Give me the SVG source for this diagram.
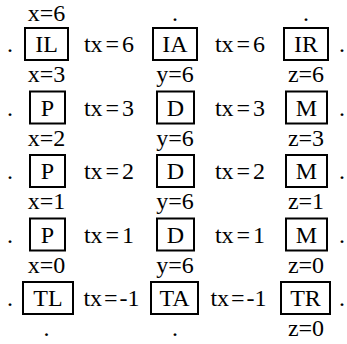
<svg xmlns="http://www.w3.org/2000/svg" width="347" height="344" viewBox="0 0 347 344">
<style>
text{font-family:"Liberation Serif","Times New Roman",serif;font-size:24px;fill:#000;text-anchor:middle}
rect.box{fill:#fff;stroke:#000;stroke-width:2}
</style>
<rect width="347" height="344" fill="#fff"/>
<g id="connectors"/>
<g id="row1">
<g id="IL"><rect class="box" x="25" y="28" width="43" height="32"/><text x="46.5" y="52">IL</text></g>
<g id="IA"><rect class="box" x="153" y="28" width="44" height="32"/><text x="175" y="52">IA</text></g>
<g id="IR"><rect class="box" x="284" y="28" width="44" height="32"/><text x="306" y="52">IR</text></g>
</g>
<g id="row2">
<g id="P3"><rect class="box" x="30" y="91.5" width="35" height="32"/><text x="47.5" y="115.5">P</text></g>
<g id="D3"><rect class="box" x="157" y="91.5" width="37" height="32"/><text x="175.5" y="115.5">D</text></g>
<g id="M3"><rect class="box" x="286" y="91.5" width="41" height="32"/><text x="306.5" y="115.5">M</text></g>
</g>
<g id="row3">
<g id="P2"><rect class="box" x="30" y="155" width="35" height="32"/><text x="47.5" y="179">P</text></g>
<g id="D2"><rect class="box" x="157" y="155" width="37" height="32"/><text x="175.5" y="179">D</text></g>
<g id="M2"><rect class="box" x="286" y="155" width="41" height="32"/><text x="306.5" y="179">M</text></g>
</g>
<g id="row4">
<g id="P1"><rect class="box" x="30" y="218.5" width="35" height="32"/><text x="47.5" y="242.5">P</text></g>
<g id="D1"><rect class="box" x="157" y="218.5" width="37" height="32"/><text x="175.5" y="242.5">D</text></g>
<g id="M1"><rect class="box" x="286" y="218.5" width="41" height="32"/><text x="306.5" y="242.5">M</text></g>
</g>
<g id="row5">
<g id="TL"><rect class="box" x="23" y="282" width="50" height="32"/><text x="48" y="306">TL</text></g>
<g id="TA"><rect class="box" x="151" y="282" width="47" height="32"/><text x="174.5" y="306">TA</text></g>
<g id="TR"><rect class="box" x="281" y="282" width="49" height="32"/><text x="305.5" y="306">TR</text></g>
</g>
<g id="edge-labels">
<text x="109" y="52">tx<tspan dx="3">=</tspan><tspan dx="3">6</tspan></text>
<text x="240" y="52">tx<tspan dx="3">=</tspan><tspan dx="3">6</tspan></text>
<text x="109" y="115.5">tx<tspan dx="3">=</tspan><tspan dx="3">3</tspan></text>
<text x="240" y="115.5">tx<tspan dx="3">=</tspan><tspan dx="3">3</tspan></text>
<text x="109" y="179">tx<tspan dx="3">=</tspan><tspan dx="3">2</tspan></text>
<text x="240" y="179">tx<tspan dx="3">=</tspan><tspan dx="3">2</tspan></text>
<text x="109" y="242.5">tx<tspan dx="3">=</tspan><tspan dx="3">1</tspan></text>
<text x="240" y="242.5">tx<tspan dx="3">=</tspan><tspan dx="3">1</tspan></text>
<text x="111.5" y="306">tx<tspan dx="2">=</tspan><tspan dx="2">-1</tspan></text>
<text x="238.5" y="306">tx<tspan dx="2">=</tspan><tspan dx="2">-1</tspan></text>
</g>
<g id="node-labels">
<text x="46.5" y="21">x=6</text>
<text x="175" y="21">.</text>
<text x="306" y="21">.</text>
<text x="46.5" y="82">x=3</text>
<text x="175" y="82">y=6</text>
<text x="306" y="82">z=6</text>
<text x="46.5" y="145.5">x=2</text>
<text x="175" y="145.5">y=6</text>
<text x="306" y="145.5">z=3</text>
<text x="46.5" y="209">x=1</text>
<text x="175" y="209">y=6</text>
<text x="306" y="209">z=1</text>
<text x="46.5" y="272.5">x=0</text>
<text x="175" y="272.5">y=6</text>
<text x="306" y="272.5">z=0</text>
<text x="46.5" y="336">.</text>
<text x="175" y="336">.</text>
<text x="306" y="336">z=0</text>
</g>
<g id="side-dots">
<text x="10" y="52">.</text><text x="342" y="52">.</text>
<text x="10" y="115.5">.</text><text x="342" y="115.5">.</text>
<text x="10" y="179">.</text><text x="342" y="179">.</text>
<text x="10" y="242.5">.</text><text x="342" y="242.5">.</text>
<text x="10" y="306">.</text><text x="342" y="306">.</text>
</g>
</svg>
